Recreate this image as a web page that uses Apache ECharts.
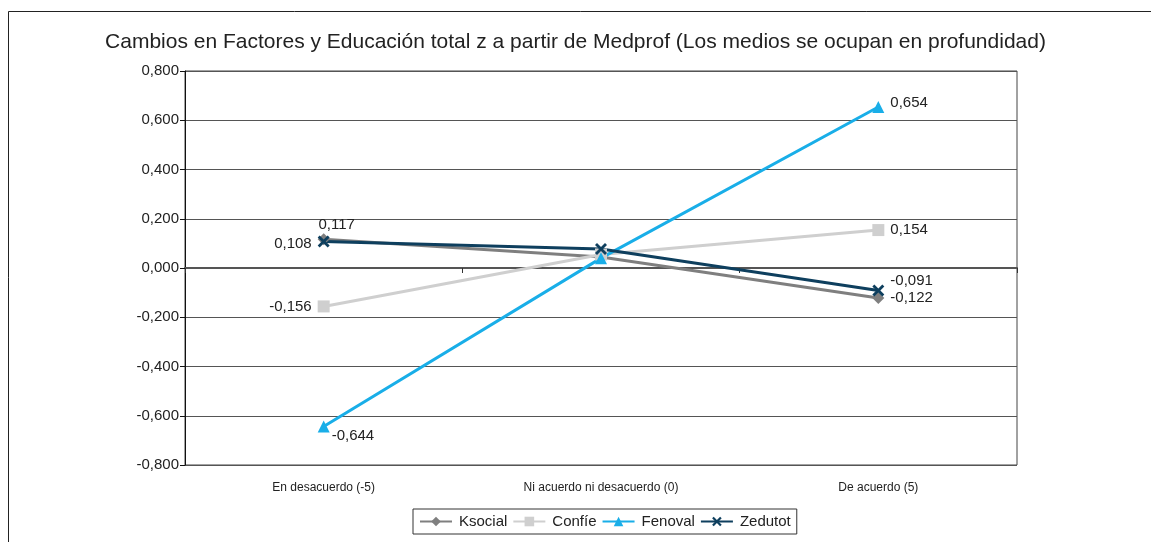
<!DOCTYPE html>
<html>
<head>
<meta charset="utf-8">
<script src="https://cdn.jsdelivr.net/npm/echarts@6/dist/echarts.min.js"></script>
<style>
  html, body { margin: 0; padding: 0; background: #fff; }
  #chart { width: 1151px; height: 542px; }
</style>
</head>
<body>
<div id="chart"></div>
<script>
const categories = ['En desacuerdo (-5)', 'Ni acuerdo ni desacuerdo (0)', 'De acuerdo (5)'];
const ksocial = [0.117, 0.045, -0.122];
const confie = [-0.156, 0.055, 0.154];
const fenoval = [-0.644, 0.040, 0.654];
const zedutot = [0.108, 0.077, -0.091];
const yTicks = { min: -0.8, max: 0.8, step: 0.2 };

const fmt = v => v.toFixed(3).replace('.', ',');
const FONT = '"Liberation Sans", Arial, sans-serif';
const X_ICON = 'path://M2,0L6,4L10,0L12,2L8,6L12,10L10,12L6,8L2,12L0,10L4,6L0,2Z';

// label placement for the end points only (middle point has none)
const withLabels = (values, first, last) => values.map((v, i) => {
    const item = { value: v };
    const cfg = i === 0 ? first : i === values.length - 1 ? last : null;
    item.label = cfg ? { show: true, position: cfg[0], offset: cfg[1] } : { show: false };
    return item;
});

const line = (name, color, symbol, data) => ({
    name,
    type: 'line',
    xAxisIndex: 0,
    data,
    symbol,
    symbolSize: 12,
    lineStyle: { color, width: 3 },
    itemStyle: { color },
    label: { color: '#222', fontSize: 15, fontFamily: FONT, formatter: p => fmt(p.value), distance: 6 },
    z: 3
});

const chart = echarts.init(document.getElementById('chart'));
chart.setOption({
    animation: false,
    backgroundColor: '#fff',
    graphic: [{
        type: 'rect',
        shape: { x: 8.5, y: 11.5, width: 1200, height: 600 },
        style: { fill: 'none', stroke: '#222', lineWidth: 1 },
        silent: true
    }],
    title: {
        text: 'Cambios en Factores y Educación total z a partir de Medprof (Los medios se ocupan en profundidad)',
        left: 'center',
        top: 27,
        textStyle: { fontFamily: FONT, fontSize: 21, fontWeight: 'normal', color: '#222' }
    },
    legend: {
        left: 413,
        top: 509,
        padding: [5, 6, 5, 6],
        itemGap: 5,
        itemWidth: 32,
        itemHeight: 12,
        borderColor: '#333',
        borderWidth: 1,
        borderRadius: 0,
        textStyle: { fontFamily: FONT, fontSize: 15, color: '#222', padding: [0, 0, 0, 2] },
        data: ['Ksocial', 'Confíe', 'Fenoval', 'Zedutot']
    },
    grid: {
        left: 185, right: 134, top: 71, bottom: 77,
        show: true, borderColor: '#444', borderWidth: 1
    },
    xAxis: [{
        type: 'category',
        data: categories,
        boundaryGap: true,
        axisLine: { onZero: true, lineStyle: { color: '#555', width: 2 } },
        axisTick: { show: true, length: 5, lineStyle: { color: '#333' } },
        axisLabel: { show: false },
        splitLine: { show: false }
    }, {
        type: 'category',
        data: categories,
        position: 'bottom',
        boundaryGap: true,
        axisLine: { show: false, onZero: false },
        axisTick: { show: false },
        axisLabel: { margin: 17, fontFamily: FONT, fontSize: 12, color: '#222' }
    }],
    yAxis: {
        type: 'value',
        min: yTicks.min,
        max: yTicks.max,
        interval: yTicks.step,
        axisLine: { show: true, lineStyle: { color: '#111', width: 1 } },
        axisTick: { show: true, length: 5, lineStyle: { color: '#111' } },
        axisLabel: { formatter: v => fmt(v), fontFamily: FONT, fontSize: 15, color: '#222', margin: 6 },
        splitLine: { show: true, lineStyle: { color: '#555', width: 1 } }
    },
    series: [
        line('Ksocial', '#7f7f7f', 'diamond', withLabels(ksocial, ['top', [13, 5]], ['right', [0, 0]])),
        line('Confíe', '#cfcfcf', 'rect', withLabels(confie, ['left', [0, 0]], ['right', [0, 0]])),
        line('Fenoval', '#19aee8', 'triangle', withLabels(fenoval, ['right', [-4, 9]], ['right', [0, -4]])),
        line('Zedutot', '#0e3f5e', X_ICON, withLabels(zedutot, ['left', [0, 2]], ['right', [0, -10]]))
    ]
});
</script>
</body>
</html>
